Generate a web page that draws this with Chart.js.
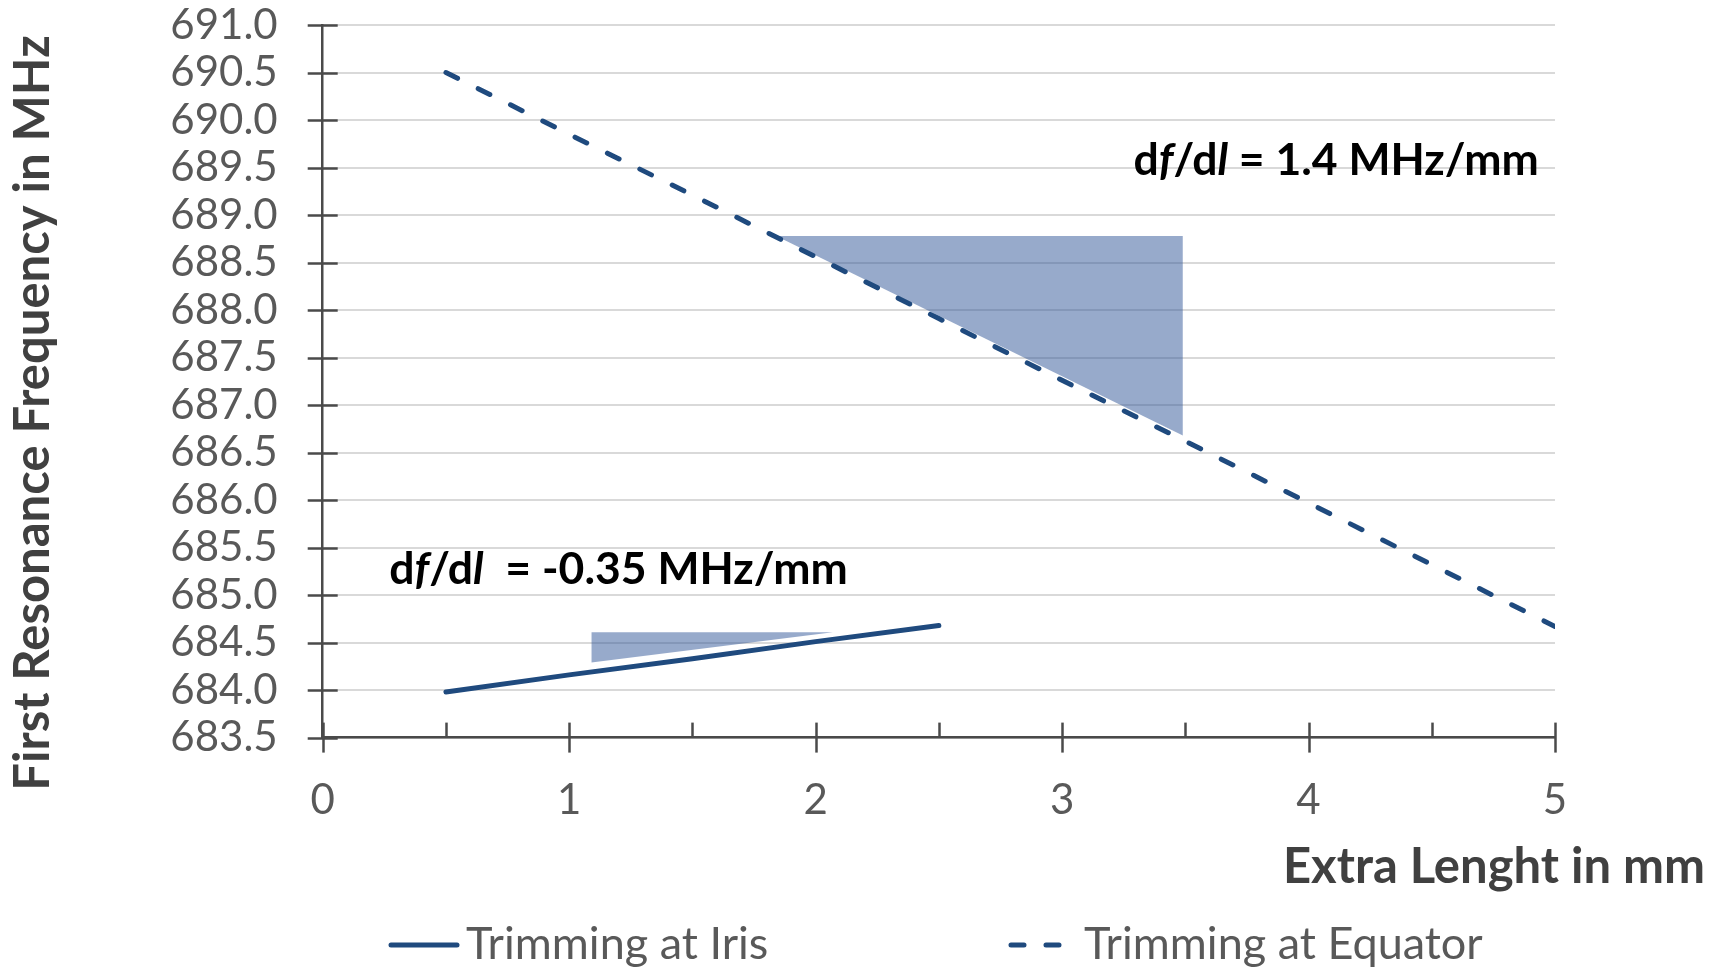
<!DOCTYPE html>
<html>
<head>
<meta charset="utf-8">
<script src="https://cdn.jsdelivr.net/npm/chart.js@4/dist/chart.umd.min.js"></script>
<style>
  html, body { margin: 0; padding: 0; background: #ffffff; }
  #wrap { width: 1721px; height: 969px; position: relative; }
</style>
</head>
<body>
<div id="wrap"><canvas id="freqChart" width="1721" height="969"></canvas></div>
<script>
// data
const irisLength = [0.5, 1.0, 1.5, 2.0, 2.5];
const irisFreq = [683.98, 684.16, 684.33, 684.51, 684.68];

const equatorLength = [0.5, 1.0, 1.5, 2.0, 2.5, 3.0, 3.5, 4.0, 4.5, 5.0];
const equatorFreq = [690.50, 689.85, 689.21, 688.56, 687.91, 687.26, 686.62, 685.97, 685.32, 684.67];

// slope triangles (hypotenuse points + flat top value)
const bigTriX = [1.84, 3.49];
const bigTriY = [688.78, 686.68];
const bigTriTop = 688.78;
const smallTriX = [1.09, 2.07];
const smallTriY = [684.29, 684.61];
const smallTriTop = 684.61;

const xTicks = [0, 1, 2, 3, 4, 5];
const yTickStep = 0.5;
const yMin = 683.5, yMax = 691.0;

const seriesNames = ['Trimming at Iris', 'Trimming at Equator'];
const xTitle = 'Extra Lenght in mm';
const yTitle = 'First Resonance Frequency in MHz';

const lineColor = '#1f4a7e';
const triColor = 'rgba(47, 85, 151, 0.5)';
const axisColor = '#4a4a4a';
const tickColor = '#595959';
const titleColor = '#404040';
const fontFam = 'Lato, "Open Sans", sans-serif';

function toPoints(xs, ys) {
    return xs.map((x, i) => ({ x: x, y: ys[i] }));
}

// tick marks, titles, annotations, legend
const extrasPlugin = {
    id: 'extras',
    afterDraw(chart) {
        const ctx = chart.ctx;
        const xs = chart.scales.x;
        const ys = chart.scales.y;
        const x0 = xs.getPixelForValue(0);
        const yb = ys.getPixelForValue(yMin);

        ctx.save();
        ctx.strokeStyle = axisColor;
        ctx.lineWidth = 2.5;
        // y ticks cross the axis
        for (let v = yMin; v <= yMax + 1e-9; v += yTickStep) {
            const py = Math.round(ys.getPixelForValue(v)) + 0.5;
            ctx.beginPath();
            ctx.moveTo(x0 - 15, py);
            ctx.lineTo(x0 + 15, py);
            ctx.stroke();
        }
        // x major ticks cross, minor ticks inside
        for (let v = 0; v <= 5 + 1e-9; v += 0.5) {
            const px = Math.round(xs.getPixelForValue(v)) + 0.5;
            const major = Math.abs(v - Math.round(v)) < 1e-9;
            ctx.beginPath();
            ctx.moveTo(px, yb - 15);
            ctx.lineTo(px, major ? yb + 15 : yb);
            ctx.stroke();
        }
        ctx.restore();

        // axis titles
        ctx.save();
        ctx.fillStyle = titleColor;
        ctx.font = 'bold 49px ' + fontFam;
        ctx.textBaseline = 'middle';
        ctx.textAlign = 'right';
        ctx.fillText(xTitle, 1705, 867);
        ctx.translate(33, 413);
        ctx.rotate(-Math.PI / 2);
        ctx.textAlign = 'center';
        ctx.fillText(yTitle, 0, 0);
        ctx.restore();

        // slope annotations with italic f and l
        function drawSlope(parts, x, y) {
            ctx.save();
            ctx.fillStyle = '#000000';
            ctx.textBaseline = 'middle';
            ctx.textAlign = 'left';
            let cx = x;
            parts.forEach(p => {
                ctx.font = (p.italic ? 'italic ' : '') + 'bold 44.5px ' + fontFam;
                ctx.fillText(p.t, cx, y);
                cx += ctx.measureText(p.t).width;
            });
            ctx.restore();
        }
        drawSlope([{ t: 'd' }, { t: 'f', italic: true }, { t: '/d' }, { t: 'l', italic: true }, { t: ' = 1.4 MHz/mm' }],
            xs.getPixelForValue(3.29), ys.getPixelForValue(689.57));
        drawSlope([{ t: 'd' }, { t: 'f', italic: true }, { t: '/d' }, { t: 'l', italic: true }, { t: '  = -0.35 MHz/mm' }],
            xs.getPixelForValue(0.27), ys.getPixelForValue(685.27));

        // legend
        ctx.save();
        ctx.strokeStyle = lineColor;
        ctx.lineWidth = 5;
        ctx.lineCap = 'round';
        ctx.beginPath();
        ctx.moveTo(391, 945);
        ctx.lineTo(457, 945);
        ctx.stroke();
        ctx.beginPath();
        ctx.moveTo(1011, 945);
        ctx.lineTo(1024, 945);
        ctx.moveTo(1046, 945);
        ctx.lineTo(1059, 945);
        ctx.stroke();
        ctx.fillStyle = tickColor;
        ctx.font = '45px ' + fontFam;
        ctx.textBaseline = 'middle';
        ctx.textAlign = 'left';
        ctx.fillText(seriesNames[0], 466, 944);
        ctx.fillText(seriesNames[1], 1084, 944);
        ctx.restore();
    }
};

const ctx = document.getElementById('freqChart').getContext('2d');
new Chart(ctx, {
    type: 'line',
    data: {
        datasets: [
            {
                label: seriesNames[0],
                data: toPoints(irisLength, irisFreq),
                borderColor: lineColor,
                borderWidth: 5,
                borderCapStyle: 'round',
                pointRadius: 0,
                fill: false,
                order: 0
            },
            {
                label: seriesNames[1],
                data: toPoints(equatorLength, equatorFreq),
                borderColor: lineColor,
                borderWidth: 5,
                borderDash: [13, 23.1],
                borderCapStyle: 'round',
                pointRadius: 0,
                fill: false,
                order: 0
            },
            {
                label: 'slope equator',
                data: toPoints(bigTriX, bigTriY),
                borderWidth: 0,
                borderColor: 'rgba(0,0,0,0)',
                pointRadius: 0,
                fill: { target: { value: bigTriTop }, above: triColor, below: triColor },
                order: 1
            },
            {
                label: 'slope iris',
                data: toPoints(smallTriX, smallTriY),
                borderWidth: 0,
                borderColor: 'rgba(0,0,0,0)',
                pointRadius: 0,
                fill: { target: { value: smallTriTop }, above: triColor, below: triColor },
                order: 1
            }
        ]
    },
    options: {
        responsive: false,
        animation: false,
        layout: { padding: { left: 0, right: 166, top: 25, bottom: 0 } },
        plugins: {
            legend: { display: false },
            tooltip: { enabled: false }
        },
        scales: {
            x: {
                type: 'linear',
                min: 0,
                max: 5,
                afterFit: s => { s.height = 969 - 737.6; },
                afterBuildTicks: s => { s.ticks = xTicks.map(v => ({ value: v })); },
                grid: { display: false, drawTicks: false },
                border: { display: true, color: axisColor, width: 2.5 },
                ticks: {
                    color: tickColor,
                    font: { family: fontFam, size: 42 },
                    padding: 38,
                    maxRotation: 0
                }
            },
            y: {
                type: 'linear',
                min: yMin,
                max: yMax,
                afterFit: s => {
                    s.width = 322.7;
                    s.paddingTop = 0;
                    s.paddingBottom = 0;
                },
                grid: { color: '#d9d9d9', lineWidth: 2, drawTicks: false },
                border: { display: true, color: axisColor, width: 2.5 },
                ticks: {
                    stepSize: yTickStep,
                    autoSkip: false,
                    color: tickColor,
                    font: { family: fontFam, size: 42 },
                    padding: 45,
                    callback: v => v.toFixed(1)
                }
            }
        }
    },
    plugins: [extrasPlugin]
});
</script>
</body>
</html>
